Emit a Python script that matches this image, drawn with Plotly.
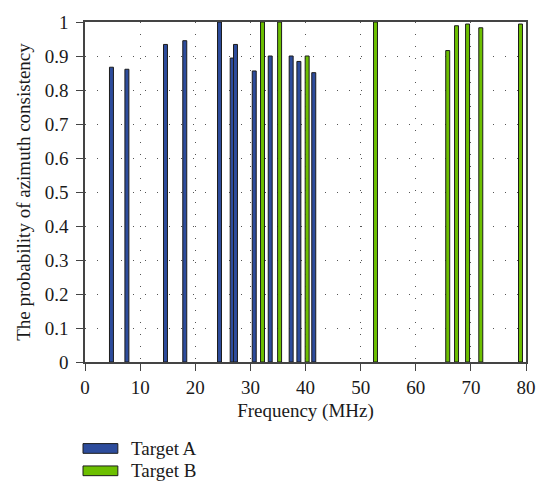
import plotly.graph_objects as go

# Frequencies (MHz) and azimuth-consistency probabilities for each target
freq_a = [4.8, 7.6, 14.6, 18.1, 24.4, 26.7, 27.3, 30.7, 33.6, 37.4, 38.8, 41.5]
prob_a = [0.867, 0.861, 0.934, 0.945, 1.0, 0.894, 0.934, 0.856, 0.900, 0.900, 0.884, 0.851]

freq_b = [32.2, 35.3, 40.3, 52.7, 65.8, 67.4, 69.4, 71.8, 79.0]
prob_b = [1.0, 1.0, 0.900, 1.0, 0.916, 0.989, 0.994, 0.983, 0.994]

series_names = ["Target A", "Target B"]
series_colors = ["#2D4C9C", "#6CBF00"]

x_ticks = [0, 10, 20, 30, 40, 50, 60, 70, 80]
y_ticks = [0, 0.1, 0.2, 0.3, 0.4, 0.5, 0.6, 0.7, 0.8, 0.9, 1]

FONT = "Liberation Serif"
W, H = 548, 487
M_L, M_R, M_T, M_B = 85, 20, 12, 125

fig = go.Figure()
for name, xs, ys, col in zip(series_names, [freq_a, freq_b], [prob_a, prob_b], series_colors):
    fig.add_trace(go.Bar(
        x=xs, y=ys, name=name, width=0.72,
        marker=dict(color=col, line=dict(color="#1c1c1c", width=1)),
        showlegend=False,
    ))

axis_common = dict(
    showline=True, linecolor="#444444", linewidth=1.5, mirror=True,
    ticks="outside", ticklen=7, tickcolor="#444444", tickwidth=1.2,
    showgrid=True, gridcolor="#555555", gridwidth=1, griddash="1px,11px",
    zeroline=False,
    tickfont=dict(family=FONT, size=19, color="#1a1a1a"),
)

fig.update_xaxes(range=[0, 80], tickvals=x_ticks,
                 title=dict(text="Frequency (MHz)", font=dict(family=FONT, size=19, color="#1a1a1a"), standoff=7),
                 **axis_common)
fig.update_yaxes(range=[0, 1], tickvals=y_ticks, ticktext=[f"{v:g}" for v in y_ticks],
                 ticklabelstandoff=4,
                 title=dict(text="The probability of azimuth consistency", font=dict(family=FONT, size=19, color="#1a1a1a"), standoff=9),
                 **axis_common)

# Legend drawn below the plot area as swatches with labels
plot_w = W - M_L - M_R
plot_h = H - M_T - M_B
def px_x(p):
    return (p - M_L) / plot_w
def px_y(p):
    return (H - M_B - p) / plot_h

legend_rows = [451, 474]
for name, col, yc in zip(series_names, series_colors, legend_rows):
    fig.add_shape(type="rect", xref="paper", yref="paper",
                  x0=px_x(83), x1=px_x(118), y0=px_y(yc + 5), y1=px_y(yc - 5),
                  fillcolor=col, line=dict(color="#1c1c1c", width=1))
    fig.add_annotation(xref="paper", yref="paper", x=px_x(129), y=px_y(yc),
                       text=name, showarrow=False, xanchor="left", yanchor="middle",
                       font=dict(family=FONT, size=19, color="#1a1a1a"))

fig.update_layout(
    width=W, height=H,
    margin=dict(l=M_L, r=M_R, t=M_T, b=M_B),
    plot_bgcolor="white", paper_bgcolor="white",
    barmode="overlay",
)

fig.write_html("out.html")
